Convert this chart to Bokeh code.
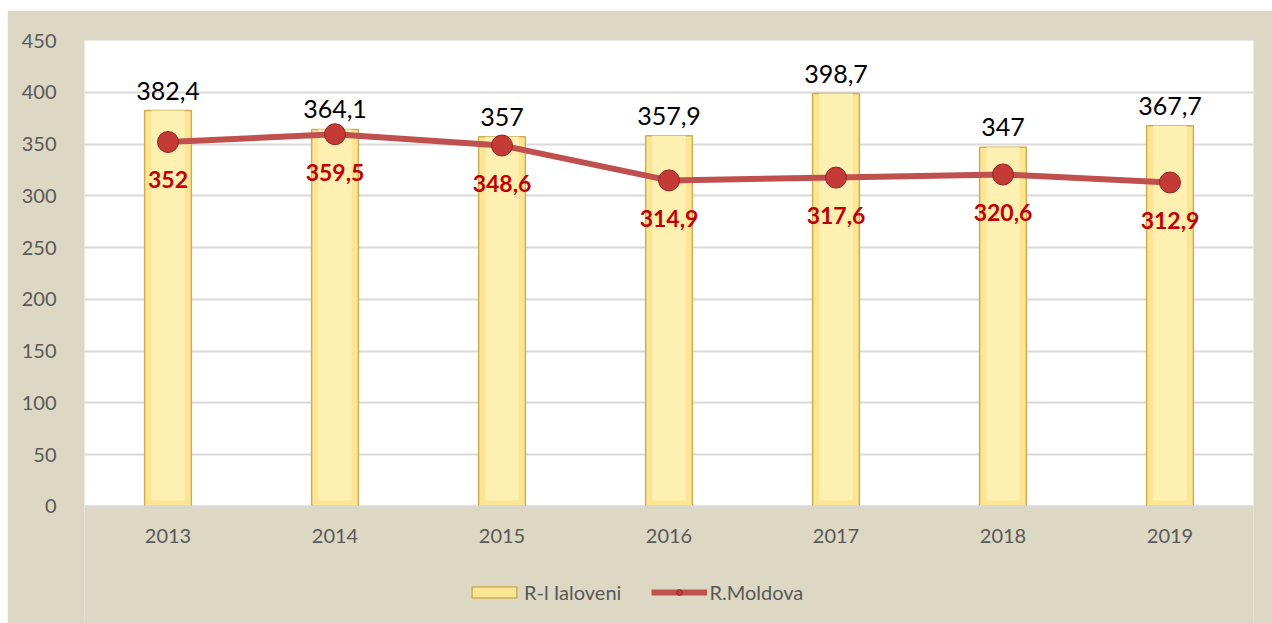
from bokeh.plotting import figure
from bokeh.models import (ColumnDataSource, Legend, LegendItem, FixedTicker,
                          Range1d, BoxAnnotation)
from bokeh.core.properties import value
from bokeh.embed import file_html
from bokeh.resources import INLINE

years = ["2013", "2014", "2015", "2016", "2017", "2018", "2019"]
ialoveni = [382.4, 364.1, 357, 357.9, 398.7, 347, 367.7]
moldova = [352, 359.5, 348.6, 314.9, 317.6, 320.6, 312.9]
y_ticks = [0, 50, 100, 150, 200, 250, 300, 350, 400, 450]

def fmt(v):
    s = ("%.1f" % v).rstrip("0").rstrip(".")
    return s.replace(".", ",")

src = ColumnDataSource(dict(
    x=years, a=ialoveni, b=moldova,
    alab=[fmt(v) for v in ialoveni],
    blab=[fmt(v) for v in moldova],
))

FONT = "Lato"
BG = "#DDD8C4"

p = figure(x_range=years, frame_width=1169, frame_height=583, output_backend="svg",
           toolbar_location=None, background_fill_color=BG,
           border_fill_color=BG, min_border_left=77, min_border_right=19,
           min_border_top=30, min_border_bottom=0)
p.margin = (10, 0, 0, 7)
p.y_range = Range1d(-113, 450)
p.outline_line_color = None

# white plotting area (0..450), below it the beige legend strip
p.add_layout(BoxAnnotation(bottom=0, top=450, fill_color="white", fill_alpha=1,
                           line_color=None, level="image"))

bars = p.vbar(x="x", top="a", width=0.28, source=src,
              fill_color="#FCE696", line_color="#CDAE55", line_width=1.5)
p.vbar(x="x", top="a", width=0.2, bottom=6, source=src,
       fill_color="#FEF0B0", line_color=None)
p.text(x="x", y="a", text="alab", source=src, text_align="center",
       text_baseline="bottom", y_offset=-11, text_font=value(FONT),
       text_font_size="25px", text_color="black")

ln = p.line(x="x", y="b", source=src, line_color="#C0504D", line_width=6)
sc = p.scatter(x="x", y="b", source=src, size=21, fill_color="#C43A36",
               line_color="#8E2420", line_width=1)
p.text(x="x", y="b", text="blab", source=src, text_align="center",
       text_baseline="middle", y_offset=38, text_font=value(FONT),
       text_font_size="23px", text_font_style="bold", text_color="#C00000")

p.yaxis.ticker = FixedTicker(ticks=y_ticks)
p.ygrid.grid_line_color = "#D9D9D9"
p.ygrid.grid_line_width = 2
p.xgrid.grid_line_color = None
for ax in (p.xaxis, p.yaxis):
    ax.major_label_text_font = FONT
    ax.major_label_text_font_size = "20px"
    ax.major_label_text_color = "#595959"
    ax.major_tick_line_color = None
    ax.minor_tick_line_color = None
p.yaxis.axis_line_color = None
p.xaxis.fixed_location = 0
p.xaxis.axis_line_color = "#D9D9D9"
p.xaxis.axis_line_width = 2
p.xaxis.major_label_standoff = 17
p.yaxis.major_label_standoff = 22

legend = Legend(items=[LegendItem(label="R-l Ialoveni", renderers=[bars]),
                       LegendItem(label="R.Moldova", renderers=[ln, sc])],
                orientation="horizontal", location=(382, 19),
                background_fill_alpha=0, border_line_color=None,
                label_text_font=FONT, label_text_font_size="20px",
                label_text_color="#595959", glyph_width=56, glyph_height=14,
                spacing=30, label_standoff=2, margin=0, padding=4)
p.add_layout(legend, "center")

open("out.html", "w").write(file_html(p, INLINE))
